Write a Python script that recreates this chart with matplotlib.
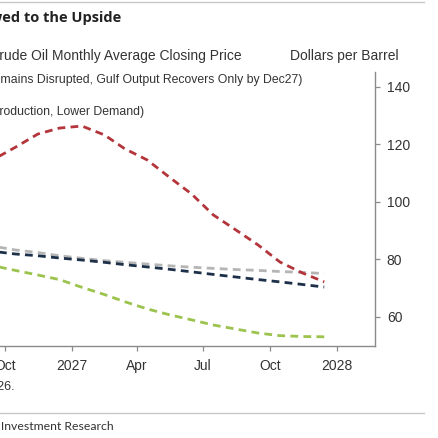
import numpy as np
import matplotlib
matplotlib.use("Agg")
import matplotlib.pyplot as plt
import matplotlib.dates as mdates
from matplotlib.lines import Line2D

# monthly averages, Sep 2026 - Dec 2027 (plotted at mid-month)
months = np.arange("2026-09", "2028-01", dtype="datetime64[M]")
hormuz_disrupted = [114.8, 119.0, 123.6, 125.7, 126.4, 123.3, 118.5, 114.6,
                    108.7, 102.8, 95.5, 90.3, 85.0, 79.1, 75.3, 72.2]
grey_scenario = [84.6, 83.3, 82.4, 81.3, 80.4, 79.6, 79.0, 78.4,
                 77.8, 77.3, 76.9, 76.5, 76.2, 75.8, 75.5, 75.1]
baseline = [82.8, 81.9, 81.3, 80.5, 79.8, 79.0, 78.2, 77.4,
            76.6, 75.7, 74.8, 73.9, 73.0, 72.2, 71.3, 70.4]
higher_supply = [77.8, 76.2, 74.6, 73.0, 70.3, 67.8, 65.3, 62.8,
                 60.8, 59.0, 57.2, 55.8, 54.4, 53.5, 53.2, 53.1]

y_ticks = [60, 80, 100, 120, 140]

W = H = 438.0
fig = plt.figure(figsize=(4.38, 4.38), dpi=100)


def px(x, y):
    return x / W, 1 - y / H


ax = fig.add_axes([0, 1 - 346 / H, 375 / W, (346 - 72) / H])

dates = (months.astype("datetime64[D]") + np.timedelta64(14, "D")).astype("O")
series = [
    (grey_scenario, "#b5b5b5"),
    (baseline, "#1d3049"),
    (higher_supply, "#9cc34d"),
    (hormuz_disrupted, "#b3353b"),
]
for vals, col in series:
    ax.plot(dates, vals, color=col, lw=2.0, linestyle=(0, (2.8, 1.9)),
            dash_capstyle="butt", solid_capstyle="butt")

ax.set_xlim(mdates.datestr2num("2026-09-24"), mdates.datestr2num("2028-02-23"))
ax.set_ylim(49.9, 145.2)

ax.xaxis.set_major_locator(mdates.MonthLocator(bymonth=[1, 4, 7, 10]))
ax.xaxis.set_major_formatter(
    plt.FuncFormatter(lambda v, p: mdates.num2date(v).strftime("%Y")
                      if mdates.num2date(v).month == 1
                      else mdates.num2date(v).strftime("%b")))
ax.yaxis.tick_right()
ax.set_yticks(y_ticks)

for s in ["top", "left"]:
    ax.spines[s].set_visible(False)
for s in ["bottom", "right"]:
    ax.spines[s].set_color("#8a8a8a")
    ax.spines[s].set_linewidth(1.0)
ax.tick_params(axis="both", direction="out", length=3.5, width=0.9,
               color="#8a8a8a", labelsize=10, labelcolor="#333333",
               labelfontfamily="Liberation Sans")
ax.tick_params(axis="x", pad=6)
ax.tick_params(axis="y", pad=5)

# header / footer text (left part of the original is cropped off)
fig.text(*px(121, 18), "Brent Oil Outlook: Risks Skewed to the Upside", ha="right",
         va="center", fontsize=10.5, fontweight="bold", family="Open Sans", color="#222222")
fig.text(*px(242, 56), "Brent Crude Oil Monthly Average Closing Price", ha="right",
         va="center", fontsize=10, family="Liberation Sans", color="#333333")
fig.text(*px(399, 56), "Dollars per Barrel", ha="right", va="center", fontsize=10,
         family="Liberation Sans", color="#333333")
fig.text(*px(302, 80), "Adverse Scenario (Hormuz Remains Disrupted, Gulf Output Recovers Only by Dec27)",
         ha="right", va="center", fontsize=8.8, family="Liberation Sans", color="#333333")
fig.text(*px(144, 112), "Downside Scenario (Higher Production, Lower Demand)",
         ha="right", va="center", fontsize=8.8, family="Liberation Sans", color="#333333")
fig.text(*px(15, 387), "Note: Forecasts as of March 2026.", ha="right", va="center",
         fontsize=9, family="Liberation Sans", color="#333333")
fig.text(*px(114, 427), "Source: Goldman Sachs Global Investment Research", ha="right",
         va="center", fontsize=8.8, family="Lato", color="#333333")

for yy in (2, 413):
    fig.add_artist(Line2D([0, 424 / W], [1 - yy / H] * 2, transform=fig.transFigure,
                          color="#c8c8c8", lw=1.0))

fig.savefig("out.png", dpi=100)
